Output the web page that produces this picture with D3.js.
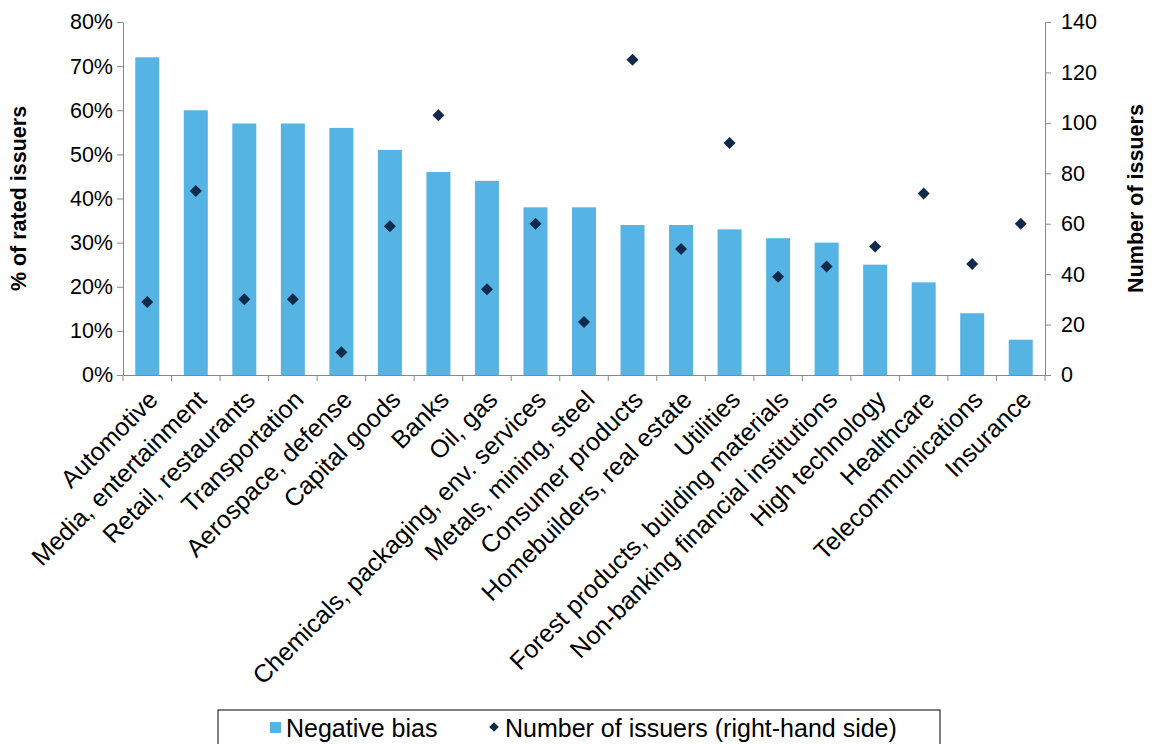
<html>
<script src="https://d3js.org/d3.v7.min.js"></script>
<style>
  body { margin: 0; background: white; font-family: "Liberation Sans", Arial, sans-serif; }
  text { font-family: "Liberation Sans", Arial, sans-serif; }
</style>
<body>
<div id="chart"></div>
<script>
  const categories = ["Automotive", "Media, entertainment", "Retail, restaurants", "Transportation",
    "Aerospace, defense", "Capital goods", "Banks", "Oil, gas", "Chemicals, packaging, env. services",
    "Metals, mining, steel", "Consumer products", "Homebuilders, real estate", "Utilities",
    "Forest products, building materials", "Non-banking financial institutions", "High technology",
    "Healthcare", "Telecommunications", "Insurance"];
  const negativeBias = [72, 60, 57, 57, 56, 51, 46, 44, 38, 38, 34, 34, 33, 31, 30, 25, 21, 14, 8];
  const issuers = [29, 73, 30, 30, 9, 59, 103, 34, 60, 21, 125, 50, 92, 39, 43, 51, 72, 44, 60];
  const leftTicks = [0, 10, 20, 30, 40, 50, 60, 70, 80];
  const rightTicks = [0, 20, 40, 60, 80, 100, 120, 140];

  const W = 1155, H = 744;
  const pLeft = 123, pRight = 1045, pTop = 22, pBottom = 375;
  const fs = "21.5px", fsBig = "25px";

  const svg = d3.select("#chart").append("svg").attr("width", W).attr("height", H);

  const xb = d3.scaleBand().domain(categories).range([pLeft, pRight]);
  const yL = d3.scaleLinear().domain([0, 80]).range([pBottom, pTop]);
  const yR = d3.scaleLinear().domain([0, 140]).range([pBottom, pTop]);

  svg.selectAll(".bar").data(categories).enter().append("rect")
    .attr("x", d => xb(d) + xb.bandwidth() / 2 - 12)
    .attr("width", 24)
    .attr("y", (d, i) => yL(negativeBias[i]))
    .attr("height", (d, i) => pBottom - yL(negativeBias[i]))
    .attr("fill", "#56b4e5");

  const diamond = "M0,-6L6,0L0,6L-6,0Z";
  svg.selectAll(".pt").data(categories).enter().append("path")
    .attr("d", diamond)
    .attr("transform", (d, i) => `translate(${xb(d) + xb.bandwidth() / 2},${yR(issuers[i])})`)
    .attr("fill", "#0f2a4a");

  const axL = svg.append("g").attr("transform", `translate(${pLeft},0)`)
    .call(d3.axisLeft(yL).tickValues(leftTicks).tickFormat(d => d + "%").tickSize(6).tickSizeOuter(0));
  const axR = svg.append("g").attr("transform", `translate(${pRight},0)`)
    .call(d3.axisRight(yR).tickValues(rightTicks).tickSize(6).tickSizeOuter(0));
  const axB = svg.append("g").attr("transform", `translate(0,${pBottom})`)
    .call(d3.axisBottom(xb).tickSize(6).tickSizeOuter(0));
  axB.selectAll(".tick line").attr("transform", `translate(${xb.bandwidth() / 2},0)`);
  axB.append("line").attr("x1", pLeft).attr("x2", pLeft).attr("y1", 0).attr("y2", 6).attr("stroke", "#000");

  [axL, axR, axB].forEach(a => {
    a.selectAll("path, line").attr("stroke", "#888");
    a.selectAll("text").attr("fill", "#000").style("font-size", fs);
  });
  axL.selectAll("text").attr("x", -10);
  axR.selectAll("text").attr("x", 16);
  axB.selectAll("text")
    .style("font-size", fsBig)
    .attr("text-anchor", "end")
    .attr("dy", "0.35em")
    .attr("y", 0)
    .attr("transform", "translate(6,20) rotate(-45)");

  svg.append("text")
    .attr("transform", `translate(26,${(pTop + pBottom) / 2}) rotate(-90)`)
    .attr("text-anchor", "middle")
    .style("font-size", fs).style("font-weight", "bold")
    .text("% of rated issuers");
  svg.append("text")
    .attr("transform", `translate(1143,${(pTop + pBottom) / 2}) rotate(-90)`)
    .attr("text-anchor", "middle")
    .style("font-size", fs).style("font-weight", "bold")
    .text("Number of issuers");

  const lg = svg.append("g");
  lg.append("rect").attr("x", 218).attr("y", 710).attr("width", 722).attr("height", 40)
    .attr("fill", "white").attr("stroke", "#000");
  lg.append("rect").attr("x", 270).attr("y", 722).attr("width", 11).attr("height", 11).attr("fill", "#56b4e5");
  lg.append("text").attr("x", 286).attr("y", 737).style("font-size", fsBig).text("Negative bias");
  lg.append("path").attr("d", diamond).attr("transform", "translate(494,727) scale(0.8)").attr("fill", "#0f2a4a");
  lg.append("text").attr("x", 505).attr("y", 737).style("font-size", fsBig).text("Number of issuers (right-hand side)");
</script>
</body>
</html>
